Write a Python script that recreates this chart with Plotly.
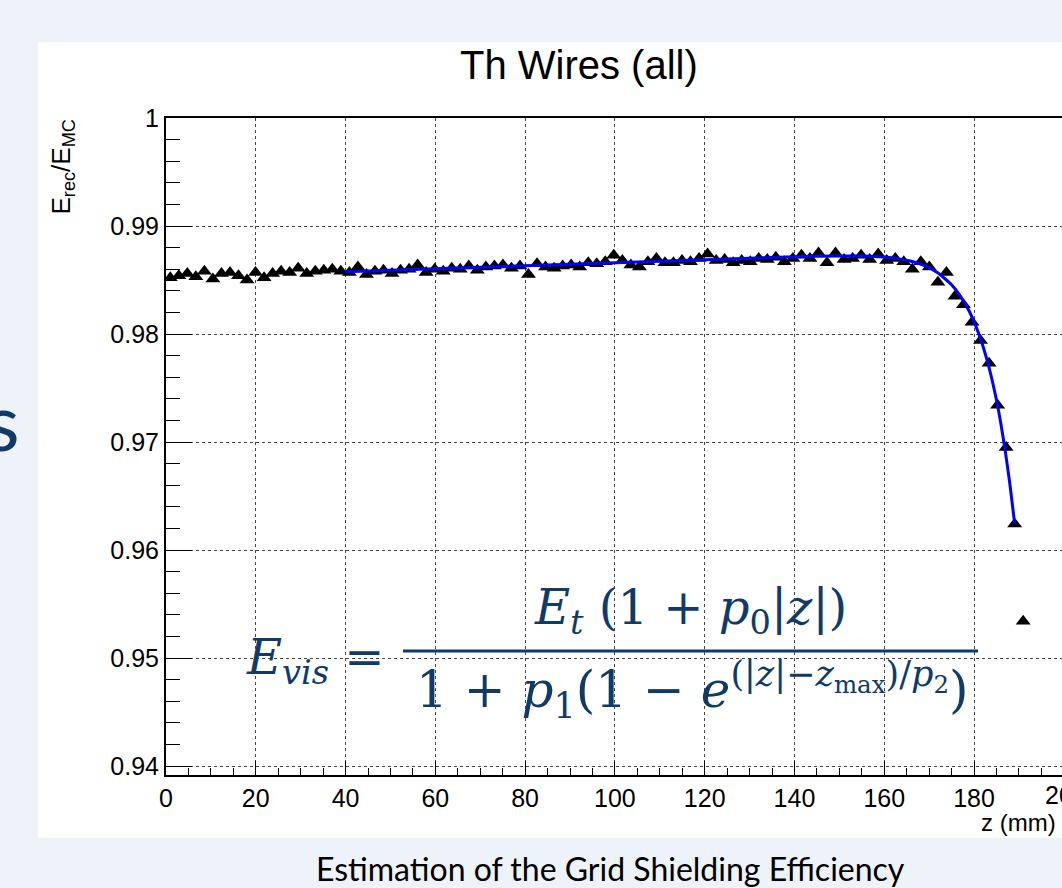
import plotly.graph_objects as go

# ---------------- data ----------------
z_mm = [0.95, 2.85, 4.75, 6.65, 8.55, 10.45, 12.35, 14.25, 16.15, 18.05, 19.95,
        21.85, 23.75, 25.65, 27.55, 29.45, 31.35, 33.25, 35.15, 37.05, 38.95,
        40.85, 42.75, 44.65, 46.55, 48.45, 50.35, 52.25, 54.15, 56.05, 57.95,
        59.85, 61.75, 63.65, 65.55, 67.45, 69.35, 71.25, 73.15, 75.05, 76.95,
        78.85, 80.75, 82.65, 84.55, 86.45, 88.35, 90.25, 92.15, 94.05, 95.95,
        97.85, 99.75, 101.65, 103.55, 105.45, 107.35, 109.25, 111.15, 113.05, 114.95,
        116.85, 118.75, 120.65, 122.55, 124.45, 126.35, 128.25, 130.15, 132.05, 133.95,
        135.85, 137.75, 139.65, 141.55, 143.45, 145.35, 147.25, 149.15, 151.05, 152.95,
        154.85, 156.75, 158.65, 160.55, 162.45, 164.35, 166.25, 168.15, 170.05,
        171.95, 173.85, 175.75, 177.65, 179.55, 181.45, 183.35, 185.25, 187.15, 189.05, 190.95]

e_ratio = [0.9852, 0.9854, 0.9856, 0.9853, 0.9858, 0.9851, 0.9856, 0.9857, 0.9854, 0.9850, 0.9857,
           0.9852, 0.9856, 0.9858, 0.9857, 0.9861, 0.9856, 0.9858, 0.9859, 0.9860, 0.9858,
           0.9857, 0.9862, 0.9855, 0.9858, 0.9859, 0.9856, 0.9859, 0.9860, 0.9864, 0.9857,
           0.9860, 0.9858, 0.9861, 0.9860, 0.9863, 0.9859, 0.9862, 0.9863, 0.9864, 0.9861,
           0.9863, 0.9855, 0.9865, 0.9862, 0.9861, 0.9863, 0.9864, 0.9862, 0.9866, 0.9865,
           0.9867, 0.9873, 0.9868, 0.9864, 0.9862, 0.9867, 0.9870, 0.9866, 0.9866, 0.9868,
           0.9867, 0.9870, 0.9874, 0.9868, 0.9869, 0.9866, 0.9868, 0.9867, 0.9870, 0.9869,
           0.9871, 0.9867, 0.9870, 0.9873, 0.9870, 0.9875, 0.9866, 0.9875, 0.9869, 0.9870,
           0.9873, 0.9869, 0.9874, 0.9868, 0.9870, 0.9867, 0.9860, 0.9867, 0.9862,
           0.9848, 0.9857, 0.9835, 0.9827, 0.9811, 0.9794, 0.9773, 0.9734, 0.9695, 0.9624, 0.9534]

fit_z = [40, 60, 80, 100, 120, 140, 150, 155, 160, 163, 166, 169, 172, 175, 177,
         179, 181, 183, 185, 186, 187, 188, 189.05]
fit_e = [0.98576, 0.98604, 0.98632, 0.98660, 0.98688, 0.98716, 0.98723, 0.98722, 0.98712,
         0.98698, 0.98673, 0.98633, 0.98565, 0.98456, 0.98349, 0.98206, 0.98010, 0.97744,
         0.97389, 0.97165, 0.96906, 0.96607, 0.96246]

x_tickvals = [0, 20, 40, 60, 80, 100, 120, 140, 160, 180]
x_ticktext = ["0", "20", "40", "60", "80", "100", "120", "140", "160", "180"]
y_tickvals = [0.94, 0.95, 0.96, 0.97, 0.98, 0.99, 1.0]
y_ticktext = ["0.94", "0.95", "0.96", "0.97", "0.98", "0.99", "1"]

title_text = "Th Wires (all)"
x_title = "z (mm)"
y_title = "E<sub>rec</sub>/E<sub>MC</sub>"
caption = "Estimation of the Grid Shielding Efficiency"

# ---------------- layout helpers ----------------
W, H = 1062, 888
L, T, R, B = 166, 118, 1062, 775
XMAX = (R - L) / 4.489
YMIN, YMAX = 0.93917, 1.0


def px(x):
    return (x - L) / (R - L)


def py(y):
    return (B - y) / (B - T)


NAVY = "#0f3b66"
SANS = "Liberation Sans, Arial, sans-serif"
SERIF = "DejaVu Serif, serif"

fig = go.Figure()
fig.add_trace(go.Scatter(x=z_mm, y=e_ratio, mode="markers",
                         marker=dict(symbol="triangle-up", size=13, color="black",
                                     line=dict(width=0)),
                         showlegend=False, hoverinfo="skip"))
fig.add_trace(go.Scatter(x=fit_z, y=fit_e, mode="lines",
                         line=dict(color="#0000ff", width=3, shape="spline", smoothing=0.4),
                         showlegend=False, hoverinfo="skip"))

axis_common = dict(showline=True, linecolor="black", linewidth=2,
                   ticks="inside", tickcolor="black", tickwidth=1,
                   showgrid=True, gridcolor="#444444", griddash="dot", gridwidth=1,
                   zeroline=False, tickfont=dict(family=SANS, size=25, color="black"))

fig.update_xaxes(range=[0, XMAX], tickmode="array", tickvals=x_tickvals, ticktext=x_ticktext,
                 ticklen=14, mirror=True,
                 minor=dict(tickmode="linear", tick0=0, dtick=5, ticklen=7, ticks="inside",
                            tickcolor="black", showgrid=False),
                 **axis_common)
fig.update_yaxes(range=[YMIN, YMAX], tickmode="array", tickvals=y_tickvals, ticktext=y_ticktext,
                 ticklen=26,
                 minor=dict(tickmode="linear", tick0=0.94, dtick=0.002, ticklen=14, ticks="inside",
                            tickcolor="black", showgrid=False),
                 **axis_common)

shapes = [
    dict(type="rect", xref="paper", yref="paper", x0=px(38), x1=px(1070), y0=py(838), y1=py(42),
         fillcolor="white", line=dict(width=0), layer="below"),
    dict(type="line", xref="paper", yref="paper", x0=px(403), x1=px(978), y0=py(651), y1=py(651),
         line=dict(color=NAVY, width=3)),
]

annotations = [
    dict(text=title_text, xref="paper", yref="paper", x=px(579), y=py(65), showarrow=False,
         xanchor="center", yanchor="middle", font=dict(family=SANS, size=40, color="black")),
    dict(text=y_title, xref="paper", yref="paper", x=px(62), y=py(118), showarrow=False,
         textangle=-90, xanchor="center", yanchor="top", font=dict(family=SANS, size=26, color="black")),
    dict(text=x_title, xref="paper", yref="paper", x=px(1058), y=py(822), showarrow=False,
         xanchor="right", yanchor="middle", font=dict(family=SANS, size=24, color="black")),
    dict(text="200", xref="paper", yref="paper", x=px(1066), y=py(795), showarrow=False,
         xanchor="center", yanchor="middle", font=dict(family=SANS, size=25, color="black")),
    dict(text="<i>E</i><sub><i>vis</i></sub> =", xref="paper", yref="paper", x=px(244), y=py(660),
         showarrow=False, xanchor="left", yanchor="middle", font=dict(family=SERIF, size=48, color=NAVY)),
    dict(text="<i>E</i><sub><i>t</i></sub> (1 + <i>p</i><sub>0</sub>|<i>z</i>|)", xref="paper", yref="paper",
         x=px(690), y=py(610), showarrow=False, xanchor="center", yanchor="middle",
         font=dict(family=SERIF, size=48, color=NAVY)),
    dict(text="1 + <i>p</i><sub>1</sub>(1 − <i>e</i><sup>(|<i>z</i>|−<i>z</i><sub>max</sub>)/<i>p</i><sub>2</sub></sup>)",
         xref="paper", yref="paper", x=px(692), y=py(690), showarrow=False, xanchor="center", yanchor="middle",
         font=dict(family=SERIF, size=50, color=NAVY)),
    dict(text="s", xref="paper", yref="paper", x=px(22), y=py(420), showarrow=False,
         xanchor="right", yanchor="middle", font=dict(family="Lato, sans-serif", size=80, color=NAVY)),
    dict(text=caption, xref="paper", yref="paper", x=px(610), y=py(869), showarrow=False,
         xanchor="center", yanchor="middle", font=dict(family="Lato, sans-serif", size=32, color="black")),
]

fig.update_layout(width=W, height=H, margin=dict(l=L, r=W - R, t=T, b=H - B, pad=0),
                  paper_bgcolor="#eef2f9", plot_bgcolor="white",
                  shapes=shapes, annotations=annotations, showlegend=False)

fig.write_html("out.html")
